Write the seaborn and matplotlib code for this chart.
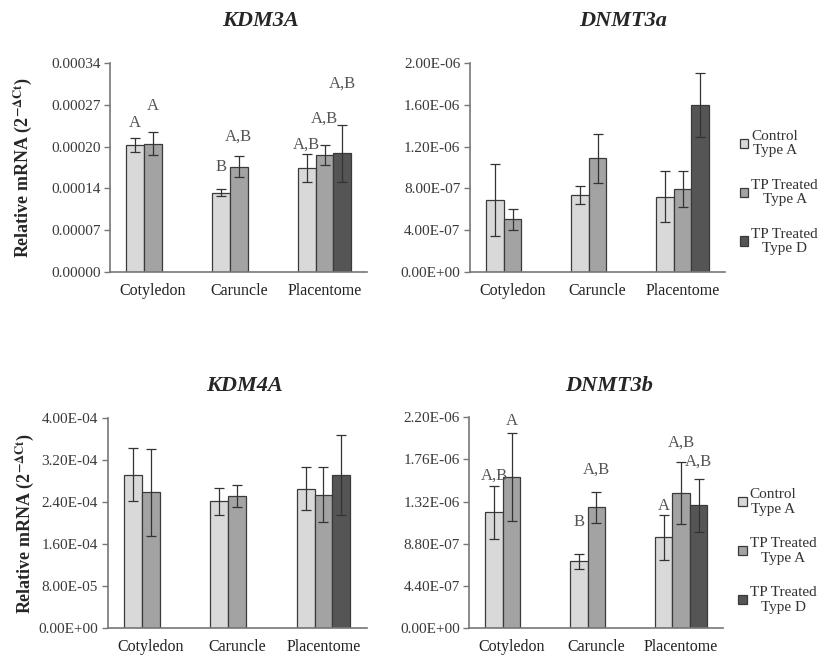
import matplotlib as mpl
mpl.use("Agg")
import matplotlib.pyplot as plt
import seaborn as sns
import pandas as pd
import numpy as np

# tissues and treatment groups
tissues = ["Cotyledon", "Caruncle", "Placentome"]
groups = ["Control\nType A", "TP Treated\nType A", "TP Treated\nType D"]

# mean values per gene: rows = groups, cols = tissues (nan = not measured)
kdm3a_mean = [[0.000207, 0.000129, 0.000169],
              [0.000209, 0.000171, 0.000190],
              [np.nan, np.nan, 0.000193]]
kdm3a_err = [[0.000011, 0.0000054, 0.000023],
             [0.000019, 0.000017, 0.000016],
             [np.nan, np.nan, 0.000047]]

dnmt3a_mean = [[6.88e-7, 7.36e-7, 7.20e-7],
               [5.06e-7, 1.088e-6, 7.94e-7],
               [np.nan, np.nan, 1.60e-6]]
dnmt3a_err = [[3.46e-7, 0.88e-7, 2.43e-7],
              [1.0e-7, 2.37e-7, 1.75e-7],
              [np.nan, np.nan, 3.07e-7]]

kdm4a_mean = [[2.92e-4, 2.41e-4, 2.65e-4],
              [2.58e-4, 2.51e-4, 2.54e-4],
              [np.nan, np.nan, 2.92e-4]]
kdm4a_err = [[5.0e-5, 2.5e-5, 4.1e-5],
             [8.3e-5, 2.1e-5, 5.2e-5],
             [np.nan, np.nan, 7.6e-5]]

dnmt3b_mean = [[1.206e-6, 6.95e-7, 9.49e-7],
               [1.574e-6, 1.258e-6, 1.408e-6],
               [np.nan, np.nan, 1.279e-6]]
dnmt3b_err = [[2.78e-7, 7.6e-8, 2.35e-7],
              [4.6e-7, 1.6e-7, 3.2e-7],
              [np.nan, np.nan, 2.76e-7]]

# significance letters: (group index, tissue index, text, y)
kdm3a_letters = [(0, 0, "A", 0.000242), (1, 0, "A", 0.000270),
                 (0, 1, "B", 0.000171), (1, 1, "A,B", 0.000220),
                 (0, 2, "A,B", 0.000207), (1, 2, "A,B", 0.000250),
                 (2, 2, "A,B", 0.000307)]
dnmt3b_letters = [(0, 0, "A,B", 1.59e-6), (1, 0, "A", 2.165e-6),
                  (0, 1, "B", 1.11e-6), (1, 1, "A,B", 1.65e-6),
                  (0, 2, "A", 1.27e-6), (1, 2, "A,B", 1.93e-6),
                  (2, 2, "A,B", 1.74e-6)]

colors = ["#d9d9d9", "#a3a3a3", "#555555"]

sns.set_style("white")
plt.rcParams["font.family"] = ["Liberation Serif", "DejaVu Serif"]
plt.rcParams["mathtext.fontset"] = "stix"


def to_frame(mean, err):
    rows = []
    for gi, g in enumerate(groups):
        for ti, t in enumerate(tissues):
            if not np.isnan(mean[gi][ti]):
                rows.append({"tissue": t, "group": g, "value": mean[gi][ti], "err": err[gi][ti]})
    return pd.DataFrame(rows)


def draw_panel(ax, title, mean, err, ymax, tick_fmt, title_x, title_pad,
               letters=None, ylabel_x=None, legend_y=None):
    df = to_frame(mean, err)
    sns.barplot(data=df, x="tissue", y="value", hue="group", order=tissues,
                hue_order=groups, palette=colors, width=0.62, errorbar=None,
                edgecolor="#3a3a3a", linewidth=0.9, ax=ax, legend=legend_y is not None)
    bar_sets = list(ax.containers)
    # bar centre for each (group, tissue)
    centres = {}
    for gi, cont in enumerate(bar_sets):
        for bar in cont:
            cx = bar.get_x() + bar.get_width() / 2
            centres[(gi, int(round(cx)))] = cx
    for (gi, ti), cx in centres.items():
        ax.errorbar(cx, mean[gi][ti], yerr=err[gi][ti], color="#333333",
                    capsize=3.5, elinewidth=0.9, capthick=0.9)
    if letters:
        for gi, ti, txt, y in letters:
            ax.text(centres[(gi, ti)], y, txt, ha="center", va="center",
                    fontsize=12, color="#555555")
    ax.set_xlim(-0.5, 2.5)
    ax.set_ylim(0, ymax)
    ticks = np.linspace(0, ymax, 6)
    ax.set_yticks(ticks)
    ax.set_yticklabels([tick_fmt(v) for v in ticks], fontsize=11, color="#3a3a3a")
    ax.set_xticks([0, 1, 2])
    ax.set_xticklabels(tissues, fontsize=11.5, color="#222222")
    ax.set_xticks([-0.5, 0.5, 1.5, 2.5], minor=True)
    ax.tick_params(axis="x", which="major", length=0, pad=8)
    ax.tick_params(axis="x", which="minor", length=4, color="#777777", width=1, direction="out")
    ax.tick_params(axis="y", length=4, color="#777777", width=1, direction="out", left=True, pad=3)
    sns.despine(ax=ax)
    for s in ["left", "bottom"]:
        ax.spines[s].set_color("#777777")
        ax.spines[s].set_linewidth(1.2)
    ax.set_xlabel("")
    if ylabel_x is not None:
        ax.set_ylabel(r"Relative mRNA (2$^{\mathbf{-\Delta Ct}}$)", fontsize=13,
                      fontweight="bold")
        ax.yaxis.set_label_coords(ylabel_x, 0.5)
    else:
        ax.set_ylabel("")
    ax.set_title(title, fontsize=16, fontweight="bold", fontstyle="italic",
                 x=title_x, pad=title_pad)
    if legend_y is not None:
        sns.move_legend(ax, "center left", bbox_to_anchor=(1.005, legend_y), frameon=False,
                        title=None, fontsize=11, handlelength=0.55, handleheight=0.55,
                        handletextpad=0.2, labelspacing=1.4)
        for t in ax.get_legend().get_texts():
            t.set_multialignment("center")
            t.set_linespacing(1.15)
            t.set_color("#333333")


fig = plt.figure(figsize=(8.22, 6.57), dpi=100)
ax1 = fig.add_axes([0.134, 0.586, 0.313, 0.318])
ax2 = fig.add_axes([0.572, 0.586, 0.310, 0.318])
ax3 = fig.add_axes([0.131, 0.044, 0.315, 0.320])
ax4 = fig.add_axes([0.571, 0.044, 0.309, 0.321])

draw_panel(ax1, "KDM3A", kdm3a_mean, kdm3a_err, 0.00034, lambda v: f"{v:.5f}",
           0.584, 27, letters=kdm3a_letters, ylabel_x=-0.296)
draw_panel(ax2, "DNMT3a", dnmt3a_mean, dnmt3a_err, 2.0e-6, lambda v: f"{v:.2E}",
           0.6, 27, legend_y=0.38)
draw_panel(ax3, "KDM4A", kdm4a_mean, kdm4a_err, 4.0e-4, lambda v: f"{v:.2E}",
           0.53, 19, ylabel_x=-0.278)
draw_panel(ax4, "DNMT3b", dnmt3b_mean, dnmt3b_err, 2.2e-6, lambda v: f"{v:.2E}",
           0.55, 19, letters=dnmt3b_letters, legend_y=0.365)

fig.savefig("out.png", dpi=100)
